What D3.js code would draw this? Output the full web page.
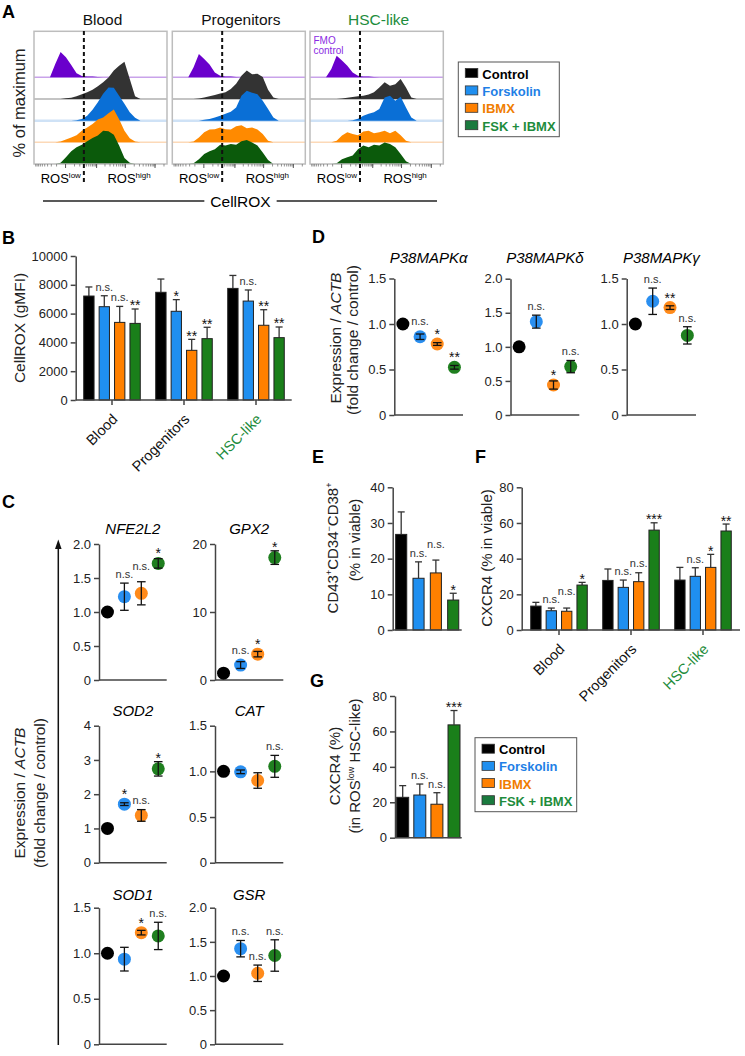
<!DOCTYPE html>
<html>
<head>
<meta charset="utf-8">
<script src="https://cdn.jsdelivr.net/npm/d3@7"></script>
<style>
  body { margin: 0; background: #fff; }
  svg { font-family: "Liberation Sans", Arial, Helvetica, sans-serif; }
</style>
</head>
<body>
<svg id="fig" width="745" height="1056"></svg>
<script>
"use strict";

// ---- shared ----
const treatments = ["Control", "Forskolin", "IBMX", "FSK + IBMX"];
const cellTypes = ["Blood", "Progenitors", "HSC-like"];
const barColors = ["#000000", "#1f8ff0", "#ff8000", "#1a7f1a"];
const dotColors = ["#000000", "#2a8ff0", "#ff8a1a", "#1f7f1f"];
const legendColors = ["#000000", "#1f7fe6", "#f07d00", "#1e8c3c"];
const hscGreen = "#1e8c3c";

// ---- A: CellROX histograms, % of max on a 0..100 channel grid ----
const histChannel = [0,4,8,12,16,20,24,28,32,36,40,44,48,52,56,60,64,68,72,76,80,84,88,92,96,100];
const histColors = ["#6a00cc", "#333333", "#0a6fd6", "#ff8a00", "#0b5a0b"];
const baseColors = ["#c9a3ea", "#b0b0b0", "#cfe2f6", "#fcd9b8"];
const rosGate = 37.5;

const bloodFMO       = [0,0,0,0,33,63,50,31,10,3,2,2,1,0,0,0,0,0,0,0,0,0,0,0,0,0];
const bloodControl   = [0,0,0,0,0,0,2,3,7,12,17,23,32,42,54,71,83,93,50,7,0,0,0,0,0,0];
const bloodForskolin = [0,0,0,0,0,0,0,0,1,4,12,27,46,67,83,82,62,42,21,7,0,0,0,0,0,0];
const bloodIBMX      = [0,0,0,0,0,2,7,12,18,29,37,46,57,62,73,82,58,29,10,2,0,0,0,0,0,0];
const bloodFSK       = [0,0,0,0,0,3,17,32,42,48,57,65,71,83,82,73,46,15,3,0,0,0,0,0,0,0];

const progFMO        = [0,0,0,0,25,58,46,32,12,4,2,2,1,0,0,0,0,0,0,0,0,0,0,0,0,0];
const progControl    = [0,0,0,0,0,1,4,7,10,14,17,25,38,58,71,62,63,55,23,4,0,0,0,0,0,0];
const progForskolin  = [0,0,0,0,0,0,2,4,8,12,17,22,33,62,75,70,66,50,29,8,0,0,0,0,0,0];
const progIBMX       = [0,0,0,0,2,12,25,32,33,37,33,32,40,43,35,37,32,21,4,0,0,0,0,0,0,0];
const progFSK        = [0,0,0,0,2,12,25,32,37,48,46,50,48,57,60,54,46,29,10,0,0,0,0,0,0,0];

const hscFMO         = [0,0,0,0,21,54,42,29,12,4,2,2,1,0,0,0,0,0,0,0,0,0,0,0,0,0];
const hscControl     = [0,0,0,0,0,0,1,3,5,7,8,11,17,29,42,33,37,50,29,4,0,0,0,0,0,0];
const hscForskolin   = [0,0,0,0,0,0,0,0,1,5,12,17,21,29,58,62,50,60,33,8,0,0,0,0,0,0];
const hscIBMX        = [0,0,0,0,0,4,17,25,21,18,27,29,23,25,29,23,29,18,4,0,0,0,0,0,0,0];
const hscFSK         = [0,0,0,0,0,2,12,17,21,37,46,42,48,46,54,50,42,25,7,0,0,0,0,0,0,0];

// ---- B: CellROX gMFI ----
const cellroxMean = [[7220, 6480, 5390, 5320], [7480, 6160, 3450, 4260], [7750, 6870, 5190, 4330]];
const cellroxErr  = [[630, 760, 1110, 1000], [920, 810, 760, 790], [900, 770, 1080, 740]];
const cellroxSig  = [["", "n.s.", "n.s.", "**"], ["", "*", "**", "**"], ["", "n.s.", "**", "**"]];

// ---- C: antioxidant genes, fold change ----
const nfe2l2 = [1.0, 1.225, 1.275, 1.715], nfe2l2Err = [0, 0.20, 0.17, 0.07], nfe2l2Sig = ["", "n.s.", "n.s.", "*"];
const gpx2   = [1.0, 2.2, 3.8, 18.0],      gpx2Err   = [0, 0.5, 0.4, 1.0],    gpx2Sig   = ["", "n.s.", "*", "*"];
const sod2   = [1.0, 1.71, 1.38, 2.74],    sod2Err   = [0, 0.04, 0.17, 0.21], sod2Sig   = ["", "*", "n.s.", "*"];
const cat    = [1.0, 0.995, 0.9, 1.055],   catErr    = [0, 0.02, 0.085, 0.12], catSig   = ["", "", "", "n.s."];
const sod1   = [1.0, 0.935, 1.226, 1.19],  sod1Err   = [0, 0.13, 0.025, 0.15], sod1Sig  = ["", "", "*", "n.s."];
const gsr    = [1.0, 1.40, 1.04, 1.30],    gsrErr    = [0, 0.12, 0.12, 0.23], gsrSig    = ["", "n.s.", "n.s.", "n.s."];

// ---- D: P38 MAPK isoforms ----
const p38a = [1.0, 0.86, 0.78, 0.524], p38aErr = [0, 0.03, 0.015, 0.02], p38aSig = ["", "n.s.", "*", "**"];
const p38d = [1.0, 1.37, 0.44, 0.71],  p38dErr = [0, 0.095, 0.06, 0.09], p38dSig = ["", "n.s.", "*", "n.s."];
const p38g = [1.0, 1.25, 1.18, 0.875], p38gErr = [0, 0.145, 0.02, 0.095], p38gSig = ["", "n.s.", "**", "n.s."];

// ---- E: CD43+CD34-CD38+ ----
const cd43Mean = [[26.8, 14.5, 16.0, 8.4]];
const cd43Err  = [[6.3, 4.6, 3.6, 1.9]];
const cd43Sig  = [["", "n.s.", "n.s.", "*"]];

// ---- F: CXCR4 in viable ----
const cxcr4Mean = [[13.4, 10.8, 10.5, 25.2], [27.8, 23.9, 27.1, 56.0], [28.0, 30.1, 35.1, 55.5]];
const cxcr4Err  = [[2.1, 1.5, 1.8, 1.5], [6.4, 4.1, 5.0, 4.1], [7.1, 4.8, 7.3, 3.9]];
const cxcr4Sig  = [["", "n.s.", "n.s.", "*"], ["", "n.s.", "n.s.", "***"], ["", "n.s.", "*", "**"]];

// ---- G: CXCR4 in ROSlow HSC-like ----
const rosLowMean = [[22.8, 24.1, 18.9, 63.7]];
const rosLowErr  = [[6.6, 6.2, 6.5, 8.1]];
const rosLowSig  = [["", "n.s.", "n.s.", "***"]];


let svg = d3.select("#fig");

function styleAxis(sel) {
    sel.select(".domain").attr("stroke", "#444").attr("stroke-width", 1.5);
    sel.selectAll(".tick line").attr("stroke", "#444").attr("stroke-width", 1.5);
    sel.selectAll(".tick text").attr("font-size", 13).attr("fill", "#222")
       .attr("font-family", "Liberation Sans, Arial, sans-serif");
}

function panelLetter(txt, x, y) {
    svg.append("text").attr("x", x).attr("y", y).attr("font-size", 18)
       .attr("font-weight", "bold").text(txt);
}

// rotated multi-part label. parts: [{t, it, sup}]
function rotText(x, y, parts, size) {
    let t = svg.append("text")
        .attr("transform", "translate(" + x + "," + y + ") rotate(-90)")
        .attr("text-anchor", "middle").attr("font-size", size || 15).attr("fill", "#222");
    let shifted = false;
    parts.forEach(function (p) {
        let s = t.append("tspan").text(p.t);
        if (p.it) s.attr("font-style", "italic");
        if (p.sup) { s.attr("font-size", 9).attr("dy", -6); shifted = true; }
        else if (shifted) { s.attr("dy", 6); shifted = false; }
    });
    return t;
}

// significance text above a mark; nudges up when it would collide with the previous one
function sigLabel(g, x, top, txt, state) {
    if (!txt) return;
    let star = txt.indexOf("*") >= 0;
    let yb = star ? top + 1.5 : top - 5;
    let t = g.append("text").attr("x", x).attr("y", yb)
        .attr("text-anchor", "middle")
        .attr("font-size", star ? 14 : 11)
        .attr("fill", star ? "#111" : "#333")
        .text(txt);
    let w = t.node().getComputedTextLength();
    let p = state.prev;
    if (p && Math.abs(x - p.x) < (w + p.w) / 2 + 1 && Math.abs(yb - p.y) < 8) {
        yb = p.y - 8.5;
        t.attr("y", yb);
    }
    state.prev = { x: x, y: yb, w: w };
}

// ---------- A ----------
function histPanel(left, right, title, titleColor, rows, showFmo) {
    let x = d3.scaleLinear().domain([0, 100]).range([left, right]);
    let base = d3.scalePoint().domain(["FMO"].concat(treatments)).range([77.3, 164]);
    let h = d3.scaleLinear().domain([0, 100]).range([0, 40]);
    let g = svg.append("g");

    rows.forEach(function (vals, i) {
        let by = base(base.domain()[i]);
        if (i < 4) {
            g.append("line").attr("x1", left).attr("x2", right).attr("y1", by).attr("y2", by)
                .attr("stroke", baseColors[i]).attr("stroke-width", i === 2 ? 2.5 : 1.5);
        }
        let area = d3.area()
            .x(function (d, j) { return x(histChannel[j]); })
            .y0(by)
            .y1(function (d) { return by - h(d); });
        g.append("path").datum(vals).attr("d", area).attr("fill", histColors[i]);
    });

    g.append("rect").attr("x", left).attr("y", 31.3).attr("width", right - left).attr("height", 164 - 31.3)
        .attr("fill", "none").attr("stroke", "#bdbdbd").attr("stroke-width", 1.5);

    // biexponential-ish tick marks on the bottom edge
    let tx = d3.scaleSymlog().constant(100).domain([-1000, 262144]).range([left, right]);
    let minor = [];
    [100, 1000, 10000, 100000].forEach(function (dec) {
        for (let m = 1; m < 10; m++) { if (m * dec <= 262144) minor.push(m * dec); }
    });
    [-100, -200, -300, -400, -500, -600, -700, -800, -900].forEach(function (v) { minor.push(v); });
    let ax = g.append("g").attr("transform", "translate(0,164)")
        .call(d3.axisBottom(tx).tickValues(minor).tickSize(2.5).tickSizeOuter(0).tickFormat(""));
    ax.select(".domain").remove();
    ax.selectAll(".tick line").attr("stroke", "#777").attr("stroke-width", 0.8);
    let ax2 = g.append("g").attr("transform", "translate(0,164)")
        .call(d3.axisBottom(tx).tickValues([0, 1000, 10000, 100000]).tickSize(4).tickFormat(""));
    ax2.select(".domain").remove();
    ax2.selectAll(".tick line").attr("stroke", "#555").attr("stroke-width", 1);

    // gate
    g.append("line").attr("x1", x(rosGate)).attr("x2", x(rosGate)).attr("y1", 31).attr("y2", 183)
        .attr("stroke", "#111").attr("stroke-width", 2).attr("stroke-dasharray", "4,3");

    g.append("text").attr("x", (left + right) / 2 + 2).attr("y", 25).attr("text-anchor", "middle")
        .attr("font-size", 15.5).attr("fill", titleColor).text(title);

    let lo = g.append("text").attr("x", x(rosGate) - 3).attr("y", 183).attr("text-anchor", "end").attr("font-size", 13);
    lo.append("tspan").text("ROS");
    lo.append("tspan").text("low").attr("font-size", 8).attr("dy", -5);
    let hi = g.append("text").attr("x", x(rosGate) + 23.5).attr("y", 183).attr("font-size", 13);
    hi.append("tspan").text("ROS");
    hi.append("tspan").text("high").attr("font-size", 8).attr("dy", -5);

    if (showFmo) {
        g.append("text").attr("x", left + 3.5).attr("y", 43.5).attr("font-size", 10).attr("fill", "#8a2be2").text("FMO");
        g.append("text").attr("x", left + 3.5).attr("y", 53.5).attr("font-size", 10).attr("fill", "#8a2be2").text("control");
    }
}

panelLetter("A", 2, 18);
histPanel(34, 167, "Blood", "#111", [bloodFMO, bloodControl, bloodForskolin, bloodIBMX, bloodFSK], false);
histPanel(172.3, 305.3, "Progenitors", "#111", [progFMO, progControl, progForskolin, progIBMX, progFSK], false);
histPanel(310, 443.3, "HSC-like", hscGreen, [hscFMO, hscControl, hscForskolin, hscIBMX, hscFSK], true);
rotText(25, 103, [{ t: "% of maximum" }], 16.5);

// CellROX axis caption with line
let cellTxt = svg.append("text").attr("x", 240.5).attr("y", 206.5).attr("text-anchor", "middle")
    .attr("font-size", 15.5).text("CellROX");
let cw = cellTxt.node().getComputedTextLength();
svg.append("line").attr("x1", 43).attr("x2", 240.5 - cw / 2 - 6).attr("y1", 201).attr("y2", 201)
    .attr("stroke", "#222").attr("stroke-width", 1.5);
svg.append("line").attr("x1", 240.5 + cw / 2 + 6).attr("x2", 437).attr("y1", 201).attr("y2", 201)
    .attr("stroke", "#222").attr("stroke-width", 1.5);

// legends
function legend(x, y, w, h) {
    let g = svg.append("g");
    g.append("rect").attr("x", x).attr("y", y).attr("width", w).attr("height", h)
        .attr("fill", "#fff").attr("stroke", "#555").attr("stroke-width", 1);
    let row = d3.scalePoint().domain(treatments).range([y + 16.5, y + h - 6]);
    treatments.forEach(function (t, i) {
        g.append("rect").attr("x", x + 7).attr("y", row(t) - 10).attr("width", 12.5).attr("height", 9)
            .attr("fill", barColors[i] === "#1a7f1a" ? "#1a7a3e" : barColors[i]).attr("stroke", "#333").attr("stroke-width", 0.8);
        g.append("text").attr("x", x + 24).attr("y", row(t)).attr("font-size", 13).attr("font-weight", "bold")
            .attr("fill", legendColors[i]).text(t);
    });
}
legend(458.3, 62, 101, 74.7);

// ---------- bar charts (B, E, F, G) ----------
function barChart(c) {
    let g = svg.append("g");
    let y = d3.scaleLinear().domain([0, c.yMax]).range([c.y0, c.yTop]);
    let gp = c.groupPad || 0;
    let x0 = d3.scaleBand().domain(d3.range(c.means.length)).range(c.groupRange)
        .paddingInner(gp).paddingOuter(gp / 2);
    let x1 = d3.scaleBand().domain(treatments).range([0, x0.bandwidth()])
        .paddingInner(c.barPadIn).paddingOuter(c.barPadOut);

    let ya = g.append("g").attr("transform", "translate(" + c.axisX + ",0)")
        .call(d3.axisLeft(y).tickValues(c.ticks).tickSize(5).tickSizeOuter(0).tickPadding(3).tickFormat(d3.format("d")));
    styleAxis(ya);

    c.means.forEach(function (grp, gi) {
        let state = {};
        grp.forEach(function (v, i) {
            let t = treatments[i];
            let bx = x0(gi) + x1(t);
            let cx = bx + x1.bandwidth() / 2;
            let e = c.errs[gi][i];
            g.append("line").attr("x1", cx).attr("x2", cx).attr("y1", y(v)).attr("y2", y(v + e))
                .attr("stroke", "#333").attr("stroke-width", 1.3);
            g.append("line").attr("x1", cx - 3.5).attr("x2", cx + 3.5).attr("y1", y(v + e)).attr("y2", y(v + e))
                .attr("stroke", "#333").attr("stroke-width", 1.3);
            g.append("rect").attr("x", bx).attr("y", y(v)).attr("width", x1.bandwidth())
                .attr("height", c.y0 - y(v)).attr("fill", barColors[i])
                .attr("stroke", "#222").attr("stroke-width", 1);
            sigLabel(g, cx, y(v + e), c.sigs[gi][i], state);
        });
    });

    g.append("line").attr("x1", c.axisX).attr("x2", c.axisEnd).attr("y1", c.y0).attr("y2", c.y0)
        .attr("stroke", "#444").attr("stroke-width", 1.5);

    if (c.groups) {
        c.groups.forEach(function (name, gi) {
            let cx = x0(gi) + x0.bandwidth() / 2;
            g.append("line").attr("x1", cx).attr("x2", cx).attr("y1", c.y0).attr("y2", c.y0 + 5)
                .attr("stroke", "#444").attr("stroke-width", 1.5);
            g.append("text").attr("text-anchor", "end").attr("font-size", 14.5)
                .attr("fill", name === "HSC-like" ? hscGreen : "#111")
                .attr("transform", "translate(" + (cx + 6.5) + "," + (c.y0 + 20) + ") rotate(-45)")
                .text(name);
        });
    }
}

panelLetter("B", 2, 243.5);
barChart({
    axisX: 75.7, axisEnd: 291.7, y0: 400, yTop: 256, yMax: 10000, ticks: [0, 2000, 4000, 6000, 8000, 10000],
    groupRange: [76, 292], groupPad: 0.144, barPadIn: 0.33, barPadOut: 0.165,
    means: cellroxMean, errs: cellroxErr, sigs: cellroxSig, groups: cellTypes
});
rotText(25, 328, [{ t: "CellROX (gMFI)" }], 15.5);

panelLetter("E", 312, 463);
barChart({
    axisX: 392.7, axisEnd: 461.7, y0: 630, yTop: 487.3, yMax: 40, ticks: [0, 10, 20, 30, 40],
    groupRange: [392.7, 461.7], groupPad: 0, barPadIn: 0.36, barPadOut: 0.17,
    means: cd43Mean, errs: cd43Err, sigs: cd43Sig, groups: null
});
rotText(338, 548, [{ t: "CD43" }, { t: "+", sup: true }, { t: "CD34" }, { t: "\u2212", sup: true }, { t: "CD38" }, { t: "+", sup: true }], 15);
rotText(360, 540, [{ t: "(% in viable)" }], 15);

panelLetter("F", 475, 463);
barChart({
    axisX: 521.7, axisEnd: 740, y0: 630, yTop: 487.3, yMax: 80, ticks: [0, 20, 40, 60, 80],
    groupRange: [523, 739], groupPad: 0.144, barPadIn: 0.33, barPadOut: 0.165,
    means: cxcr4Mean, errs: cxcr4Err, sigs: cxcr4Sig, groups: cellTypes
});
rotText(492, 558, [{ t: "CXCR4 (% in viable)" }], 15);

panelLetter("G", 310, 687);
barChart({
    axisX: 395, axisEnd: 461.7, y0: 837.7, yTop: 696, yMax: 80, ticks: [0, 20, 40, 60, 80],
    groupRange: [395, 461.7], groupPad: 0, barPadIn: 0.3, barPadOut: 0.1,
    means: rosLowMean, errs: rosLowErr, sigs: rosLowSig, groups: null
});
rotText(340, 766, [{ t: "CXCR4 (%)" }], 15);
rotText(360, 766, [{ t: "(in ROS" }, { t: "low", sup: true }, { t: " HSC-like)" }], 15);
legend(475, 737.7, 101.7, 74);

// ---------- dot plots (C, D) ----------
function dotPanel(p) {
    let g = svg.append("g");
    let y = d3.scaleLinear().domain([0, p.yMax]).range([p.y0, p.yTop]);
    let x = d3.scalePoint().domain(treatments).range([p.axisX, p.axisEnd]).padding(0.5);
    let fmt = function (v) { return v === 0 ? "0" : (p.intTicks ? d3.format("d")(v) : d3.format(".1f")(v)); };

    let ya = g.append("g").attr("transform", "translate(" + p.axisX + ",0)")
        .call(d3.axisLeft(y).tickValues(p.ticks).tickSize(5).tickSizeOuter(0).tickPadding(3).tickFormat(fmt));
    styleAxis(ya);
    g.append("line").attr("x1", p.axisX).attr("x2", p.axisEnd).attr("y1", p.y0).attr("y2", p.y0)
        .attr("stroke", "#444").attr("stroke-width", 1.5);

    g.append("text").attr("x", (p.axisX + p.axisEnd) / 2).attr("y", p.titleY).attr("text-anchor", "middle")
        .attr("font-size", 15).attr("font-style", "italic").text(p.title);

    let r = 6.5;
    let state = {};
    p.vals.forEach(function (v, i) {
        let cx = x(treatments[i]);
        let e = p.errs[i];
        g.append("circle").attr("cx", cx).attr("cy", y(v)).attr("r", r).attr("fill", dotColors[i]);
        if (e > 0) {
            [v - e, v + e].forEach(function (ev) {
                g.append("line").attr("x1", cx - 4.3).attr("x2", cx + 4.3).attr("y1", y(ev)).attr("y2", y(ev))
                    .attr("stroke", "#111").attr("stroke-width", 1.3);
            });
            g.append("line").attr("x1", cx).attr("x2", cx).attr("y1", y(v - e)).attr("y2", y(v + e))
                .attr("stroke", "#111").attr("stroke-width", 1.3);
        }
        sigLabel(g, cx, Math.min(y(v + e), y(v) - r), p.sigs[i], state);
    });
}

panelLetter("C", 2, 508);
dotPanel({ title: "NFE2L2", titleY: 533.5, axisX: 99, axisEnd: 166.7, y0: 680, yTop: 544, yMax: 2,
    ticks: [0, 0.5, 1, 1.5, 2], vals: nfe2l2, errs: nfe2l2Err, sigs: nfe2l2Sig });
dotPanel({ title: "GPX2", titleY: 533.5, axisX: 215, axisEnd: 283.3, y0: 680, yTop: 544, yMax: 20,
    ticks: [0, 10, 20], intTicks: true, vals: gpx2, errs: gpx2Err, sigs: gpx2Sig });
dotPanel({ title: "SOD2", titleY: 716, axisX: 99, axisEnd: 166.7, y0: 862.7, yTop: 725.7, yMax: 4,
    ticks: [0, 1, 2, 3, 4], intTicks: true, vals: sod2, errs: sod2Err, sigs: sod2Sig });
dotPanel({ title: "CAT", titleY: 716, axisX: 215, axisEnd: 283.3, y0: 862.7, yTop: 725.7, yMax: 1.5,
    ticks: [0, 0.5, 1, 1.5], vals: cat, errs: catErr, sigs: catSig });
dotPanel({ title: "SOD1", titleY: 900, axisX: 99, axisEnd: 166.7, y0: 1044.3, yTop: 907.7, yMax: 1.5,
    ticks: [0, 0.5, 1, 1.5], vals: sod1, errs: sod1Err, sigs: sod1Sig });
dotPanel({ title: "GSR", titleY: 900, axisX: 215, axisEnd: 283.3, y0: 1044.3, yTop: 907.7, yMax: 2,
    ticks: [0, 0.5, 1, 1.5, 2], vals: gsr, errs: gsrErr, sigs: gsrSig });

// C shared axis title + arrow
rotText(25, 793, [{ t: "Expression / " }, { t: "ACTB", it: true }], 15.5);
rotText(45, 793, [{ t: "(fold change / control)" }], 15.5);
svg.append("line").attr("x1", 58.3).attr("x2", 58.3).attr("y1", 1045).attr("y2", 546)
    .attr("stroke", "#111").attr("stroke-width", 1.5);
svg.append("path").attr("d", d3.line()([[58.3, 539.5], [55, 549], [61.6, 549]]) + "Z").attr("fill", "#111");

panelLetter("D", 312, 243);
dotPanel({ title: "P38MAPK\u03b1", titleY: 263, axisX: 394.3, axisEnd: 463, y0: 415, yTop: 278.5, yMax: 1.5,
    ticks: [0, 0.5, 1, 1.5], vals: p38a, errs: p38aErr, sigs: p38aSig });
dotPanel({ title: "P38MAPK\u03b4", titleY: 263, axisX: 510.5, axisEnd: 579.3, y0: 415, yTop: 278.7, yMax: 2,
    ticks: [0, 0.5, 1, 1.5, 2], vals: p38d, errs: p38dErr, sigs: p38dSig });
dotPanel({ title: "P38MAPK\u03b3", titleY: 263, axisX: 626.7, axisEnd: 696, y0: 415, yTop: 278.5, yMax: 1.5,
    ticks: [0, 0.5, 1, 1.5], vals: p38g, errs: p38gErr, sigs: p38gSig });
rotText(341, 338, [{ t: "Expression / " }, { t: "ACTB", it: true }], 15.5);
rotText(358, 340, [{ t: "(fold change / control)" }], 15.5);
</script>
</body>
</html>
